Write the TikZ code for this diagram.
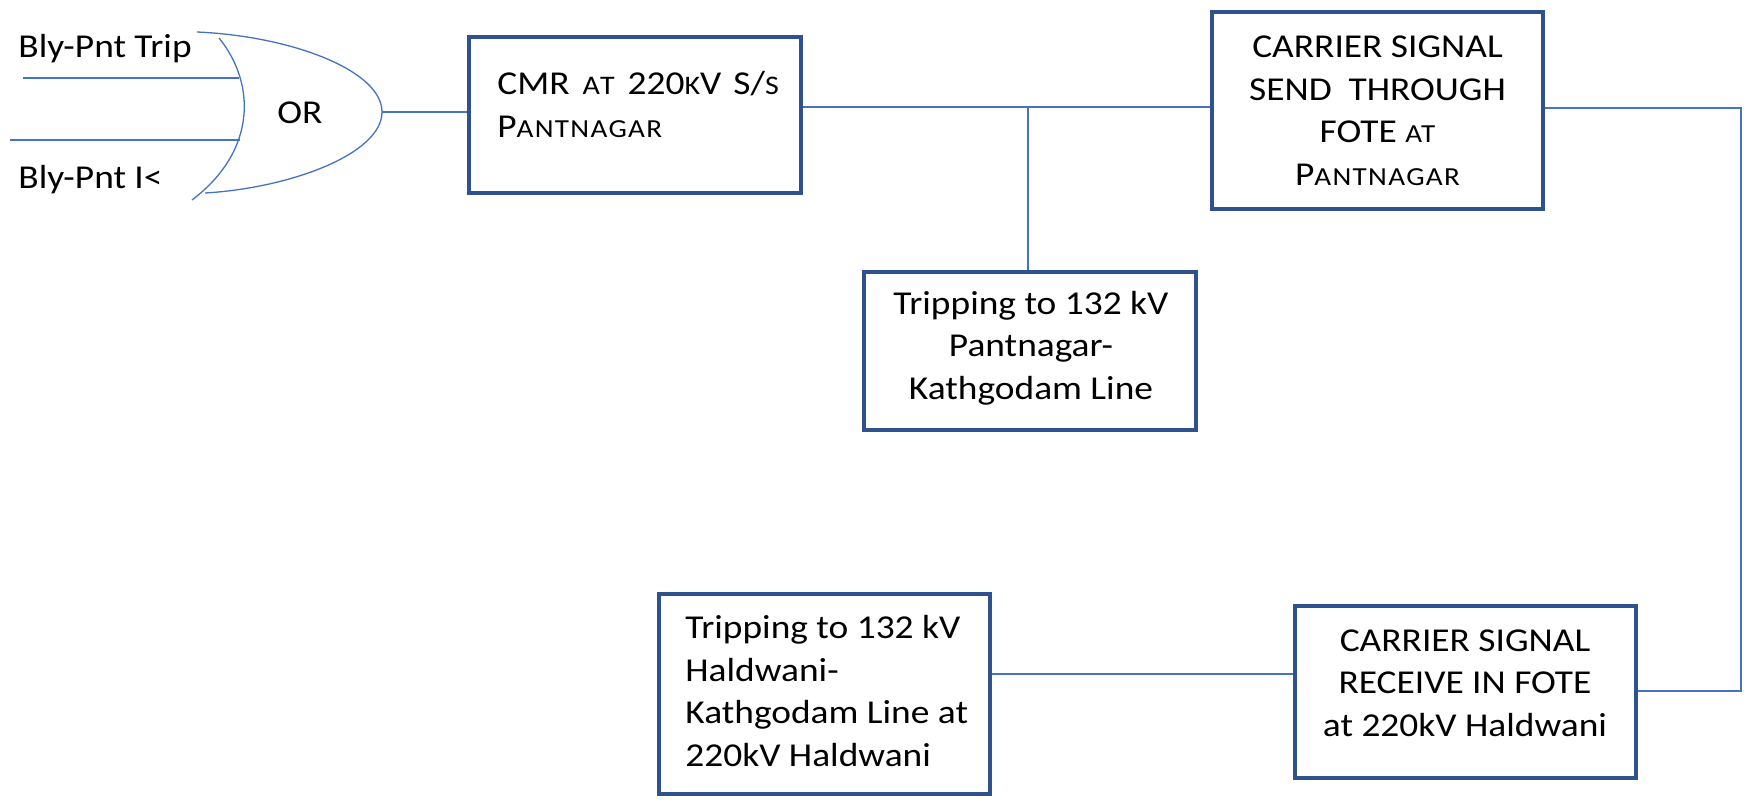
\documentclass[tikz,border=0pt]{standalone}
\usepackage{fontspec}
\setmainfont{Carlito}[FakeStretch=1.12]
\newcommand\fsc[1]{{\fontsize{13pt}{21.25pt}\selectfont\addfontfeatures{LetterSpace=5}#1}}
\newcommand\fscw[1]{{\fontsize{13.4pt}{21.25pt}\selectfont\addfontfeatures{LetterSpace=9}#1}}
\definecolor{boxblue}{HTML}{2F528F}
\definecolor{linkblue}{HTML}{4472C4}
\begin{document}
\begin{tikzpicture}[x=0.5pt,y=-0.5pt,
  every node/.style={font=\fontsize{16.7pt}{21.25pt}\selectfont, text=black},
  blk/.style={draw=boxblue, line width=2pt, rectangle, inner sep=0pt},
  txt/.style={inner sep=0pt},
  conn/.style={draw=linkblue, line width=0.65pt}]
\path[use as bounding box] (0,0) rectangle (1753,803);

% boxes
\node[blk, minimum width=166pt, minimum height=78pt] (cmr) at (635,115) {};
\node[blk, minimum width=165.5pt, minimum height=98.5pt, align=center] (send) at (1377.5,110.5)
  {CARRIER SIGNAL\\SEND\ \ THROUGH\\FOTE \fsc{AT}\\P\fsc{ANTNAGAR}};
\node[blk, minimum width=166pt, minimum height=79pt] (ptrip) at (1030,351) {};
\node[blk, minimum width=165.5pt, minimum height=100pt] (htrip) at (824.5,694) {};
\node[blk, minimum width=170.5pt, minimum height=86pt] (recv) at (1465.5,692) {};

% texts
\node[txt, anchor=west, align=left] (cmrtxt) at (497,104.5)
  {CMR\hspace{6.5pt}\fscw{AT}\hspace{6.5pt}220\fscw{K}V\hspace{6pt}S/\fscw{S}\\P\fsc{ANTNAGAR}};
\node[txt, align=center] (ptriptxt) at (1031,348)
  {Tripping to 132 kV\\Pantnagar-\\Kathgodam Line};
\node[txt, anchor=west, align=left] (htriptxt) at (685,691)
  {Tripping to 132 kV\\Haldwani-\\Kathgodam Line at\\220kV Haldwani};
\node[txt, align=center] (recvtxt) at (1465,683)
  {CARRIER SIGNAL\\RECEIVE IN FOTE\\at 220kV Haldwani};

% OR gate
\node[txt, anchor=base west] (lab1) at (18,57) {Bly-Pnt Trip};
\node[txt, anchor=base west] (lab2) at (18,188) {Bly-Pnt I<};
\node[txt] (ortxt) at (300,113) {OR};
\coordinate (ortip) at (382,112);
\draw[conn] (197,32) .. controls (290,36) and (382,70) .. (ortip)
  .. controls (382,154) and (290,188) .. (205,193);
\draw[conn] (219,38) .. controls (255,82) and (258,150) .. (192,200);
\coordinate (a1) at (23,78);  \coordinate (a2) at (239,78);
\coordinate (b1) at (10,140); \coordinate (b2) at (240,140);
\draw[conn] (a1) -- (a2);
\draw[conn] (b1) -- (b2);

% connectors
\draw[conn] (ortip) -- (ortip -| cmr.west);
\coordinate (j) at (1028,107);
\draw[conn] (j -| cmr.east) -- (j -| send.west);
\draw[conn] (j) -- (j |- ptrip.north);
\coordinate (rt) at (1741,108);
\coordinate (rb) at (1741,691);
\draw[conn] (rt -| send.east) -- (rt) -- (rb) -- (rb -| recv.east);
\coordinate (hl) at (1140,674);
\draw[conn] (hl -| htrip.east) -- (hl -| recv.west);
\end{tikzpicture}
\end{document}
